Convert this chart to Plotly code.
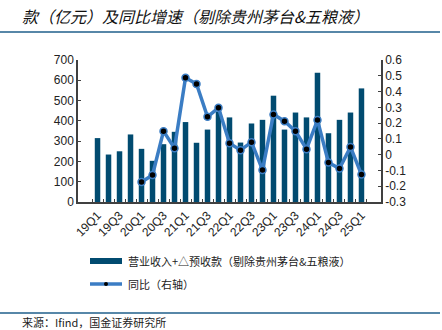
import plotly.graph_objects as go

quarters = ["19Q1","19Q2","19Q3","19Q4","20Q1","20Q2","20Q3","20Q4",
            "21Q1","21Q2","21Q3","21Q4","22Q1","22Q2","22Q3","22Q4",
            "23Q1","23Q2","23Q3","23Q4","24Q1","24Q2","24Q3","24Q4","25Q1"]
revenue = [315, 234, 250, 333, 262, 203, 285, 346,
           394, 292, 357, 445, 417, 293, 387, 405,
           524, 357, 441, 417, 637, 339, 405, 441, 560]
yoy = [None, None, None, None, -0.173, -0.129, 0.149, 0.041,
       0.488, 0.448, 0.240, 0.297, 0.073, 0.028, 0.079, -0.097,
       0.255, 0.212, 0.149, 0.035, 0.219, -0.050, -0.088, 0.049, -0.126]
left_ticks = [0, 100, 200, 300, 400, 500, 600, 700]
right_ticks = [-0.3, -0.2, -0.1, 0, 0.1, 0.2, 0.3, 0.4, 0.5, 0.6]
right_text = ["-0.3", "-0.2", "-0.1", "0", "0.1", "0.2", "0.3", "0.4", "0.5", "0.6"]
x_labels = [q if i % 2 == 0 else "" for i, q in enumerate(quarters)]

title = "款（亿元）及同比增速（剔除贵州茅台&五粮液）"
bar_name = "营业收入+△预收款（剔除贵州茅台&五粮液）"
line_name = "同比（右轴）"
source = "来源：Ifind，国金证券研究所"

BAR = "#014b70"
LINE = "#3b7dc4"
AX = "#404040"

fig = go.Figure()
fig.add_trace(go.Bar(x=quarters, y=revenue, marker_color=BAR, marker_line_width=0,
                     name=bar_name, showlegend=False))
fig.add_trace(go.Scatter(x=quarters, y=yoy, yaxis="y2", mode="lines+markers",
                         line=dict(color=LINE, width=3.5),
                         marker=dict(color="black", size=7, line=dict(color=LINE, width=1.5)),
                         name=line_name, showlegend=False))

L, R, T, B = 78, 61, 60, 128
W, H = 442, 330
pw, ph = W - L - R, H - T - B
def xp(px): return (px - L) / pw
def yp(py): return (H - B - py) / ph

font_num = "Liberation Sans, Arial, sans-serif"
font_cjk = "Noto Sans CJK SC, sans-serif"

shapes = [
    dict(type="line", xref="paper", yref="paper", x0=xp(0), x1=xp(440), y0=yp(32), y1=yp(32),
         line=dict(color="#1f5f8b", width=1.5)),
    dict(type="line", xref="paper", yref="paper", x0=xp(0), x1=xp(440), y0=yp(313), y1=yp(313),
         line=dict(color="#1f5f8b", width=1.5)),
    dict(type="rect", xref="paper", yref="paper", x0=xp(90), x1=xp(122), y0=yp(264), y1=yp(258),
         fillcolor=BAR, line=dict(width=0)),
    dict(type="line", xref="paper", yref="paper", x0=xp(90), x1=xp(122), y0=yp(284), y1=yp(284),
         line=dict(color=LINE, width=3.5)),
    dict(type="circle", xref="paper", yref="paper", x0=xp(104), x1=xp(108), y0=yp(286), y1=yp(282),
         fillcolor="black", line=dict(color="black", width=0)),
]
annotations = [
    dict(text="<i>" + title + "</i>", xref="paper", yref="paper", x=xp(20), y=yp(16),
         xanchor="left", yanchor="middle",
         showarrow=False, font=dict(family=font_cjk, size=16, color="#111")),
    dict(text=bar_name, xref="paper", yref="paper", x=xp(126), y=yp(261), xanchor="left", yanchor="middle",
         showarrow=False, font=dict(family=font_cjk, size=11, color="#222")),
    dict(text=line_name, xref="paper", yref="paper", x=xp(126), y=yp(284), xanchor="left", yanchor="middle",
         showarrow=False, font=dict(family=font_cjk, size=11, color="#222")),
    dict(text=source, xref="paper", yref="paper", x=xp(20), y=yp(322), xanchor="left", yanchor="middle",
         showarrow=False, font=dict(family=font_cjk, size=11, color="#222")),
]

fig.update_layout(
    width=W, height=H,
    margin=dict(l=L, r=R, t=T, b=B, pad=0),
    paper_bgcolor="white", plot_bgcolor="white",
    bargap=0.5,
    shapes=shapes, annotations=annotations,
    xaxis=dict(type="category", categoryorder="array", categoryarray=quarters,
               tickvals=quarters, ticktext=x_labels, tickangle=-45,
               tickson="boundaries", ticks="inside", ticklen=3, tickcolor=AX,
               showline=True, linecolor=AX, linewidth=1.5, showgrid=False,
               tickfont=dict(family=font_num, size=12, color="#222")),
    yaxis=dict(range=[0, 700], tickvals=left_ticks, ticks="inside", ticklen=3, tickcolor=AX,
               showline=True, linecolor=AX, linewidth=1.5, showgrid=False, zeroline=False,
               tickfont=dict(family=font_num, size=12, color="#222")),
    yaxis2=dict(range=[-0.3, 0.6], overlaying="y", side="right", tickvals=right_ticks,
                ticktext=right_text, ticks="inside", ticklen=3, tickcolor=AX,
                showline=True, linecolor=AX, linewidth=1.5, showgrid=False, zeroline=False,
                tickfont=dict(family=font_num, size=12, color="#222")),
)

fig.write_html("out.html")
